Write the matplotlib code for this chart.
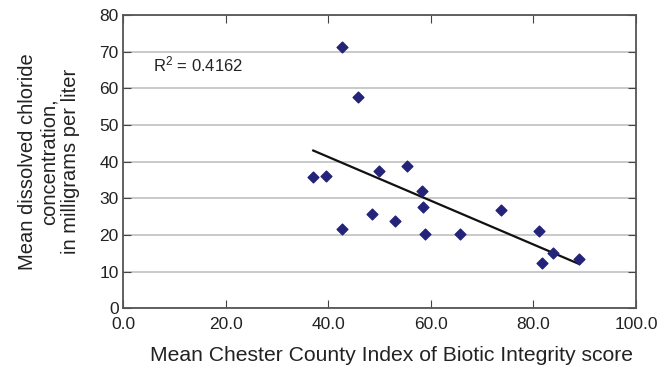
import numpy as np
import matplotlib.pyplot as plt

plt.rcParams['font.family'] = ['Liberation Sans', 'DejaVu Sans']
plt.rcParams['mathtext.default'] = 'regular'

ibi_score = [42.7, 45.8, 37.1, 39.6, 50.0, 42.7, 48.6, 53.0, 55.4,
             58.3, 58.4, 58.9, 65.7, 73.7, 81.2, 83.9, 81.7, 88.9]
chloride = [71.3, 57.5, 35.8, 36.0, 37.4, 21.5, 25.7, 23.8, 38.8,
            32.1, 27.7, 20.2, 20.3, 26.9, 21.0, 15.1, 12.2, 13.4]
r_squared = "0.4162"

x = np.array(ibi_score)
y = np.array(chloride)
slope, intercept = np.polyfit(x, y, 1)
xfit = np.array([x.min(), x.max()])

fig = plt.figure(figsize=(6.61, 3.66), dpi=100)
ax = fig.add_axes([0.186, 0.158, 0.776, 0.801])

ax.scatter(x, y, marker='D', s=30, color='#23237a', zorder=3)
ax.plot(xfit, slope * xfit + intercept, color='#111111', lw=1.6, zorder=2)

ax.set_xlim(0, 100)
ax.set_ylim(0, 80)
ax.set_xticks(np.arange(0, 101, 20))
ax.set_xticklabels([f"{v:.1f}" for v in np.arange(0, 101, 20)])
ax.set_yticks(np.arange(0, 81, 10))
ax.yaxis.grid(True, color='#c0c0c0', lw=1.2)
ax.set_axisbelow(True)

ax.tick_params(direction='in', top=True, right=True, length=6,
               labelsize=12.5, color='#444444', labelcolor='#222222', pad=3)
ax.tick_params(axis='x', pad=6)
for s in ax.spines.values():
    s.set_color('#555555')
    s.set_linewidth(1.3)

ax.text(5.8, 64.5, r'R$^{2}$ = ' + r_squared, fontsize=12, color='#222222')

ax.set_xlabel("Mean Chester County Index of Biotic Integrity score",
              fontsize=15.2, color='#222222')
ax.xaxis.set_label_coords(0.523, -0.128)
ax.set_ylabel("Mean dissolved chloride\nconcentration,\nin milligrams per liter",
              fontsize=14.5, color='#222222', labelpad=14, linespacing=1.15)

fig.savefig("out.png", dpi=100)
